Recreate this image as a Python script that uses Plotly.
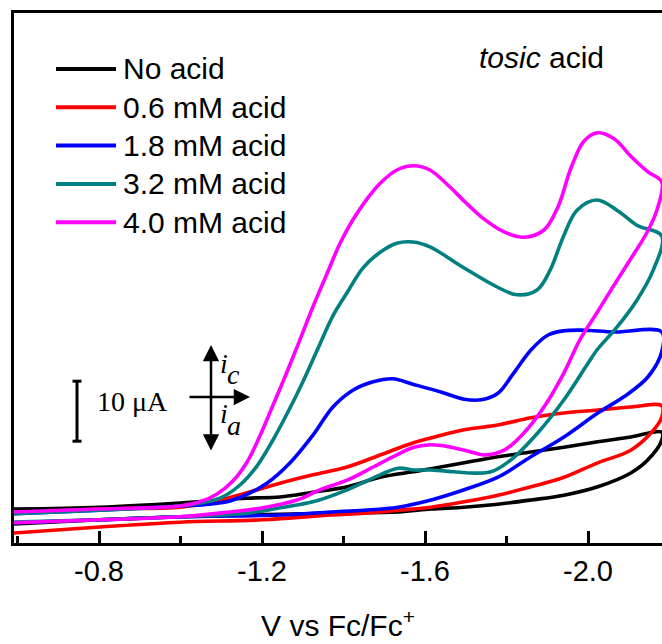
import plotly.graph_objects as go

# ---------------- data (potential in V vs Fc/Fc+, current in µA, cathodic up) ----------------
series_names = ["No acid", "0.6 mM acid", "1.8 mM acid", "3.2 mM acid", "4.0 mM acid"]
series_colors = ["#000000", "#FF0000", "#0000FF", "#008080", "#FF00FF"]

v_noacid = [-0.589, -0.802, -0.999, -1.163, -1.244, -1.325, -1.409, -1.490, -1.570, -1.615, -1.696,
            -1.779, -1.860, -1.941, -2.024, -2.105, -2.181,
            -2.181, -2.147, -2.105, -2.024, -1.941, -1.860, -1.779, -1.696, -1.615, -1.534, -1.369,
            -0.999, -0.802, -0.589]
i_noacid = [1.0, 1.3, 2.0, 2.8, 3.0, 3.8, 4.7, 6.3, 7.2, 7.7, 8.7,
            9.7, 10.5, 11.3, 12.2, 13.0, 13.8,
            12.5, 9.2, 7.0, 4.7, 3.3, 2.5, 1.8, 1.3, 1.0, 0.5, 0.3,
            -0.3, -0.8, -1.5]

v_06 = [-0.589, -0.802, -0.999, -1.080, -1.163, -1.244, -1.325, -1.409, -1.490, -1.570, -1.612,
        -1.696, -1.779, -1.860, -1.941, -2.024, -2.105, -2.181,
        -2.181, -2.155, -2.105, -2.024, -1.941, -1.860, -1.779, -1.696, -1.615, -1.534, -1.450,
        -1.369, -1.202, -0.999, -0.802, -0.589]
i_06 = [0.3, 1.0, 1.3, 2.2, 3.7, 5.3, 6.7, 8.0, 10.0, 12.0, 12.8,
        14.2, 15.0, 16.2, 17.0, 17.5, 18.0, 18.2,
        16.3, 13.7, 10.8, 8.7, 6.3, 4.7, 3.3, 2.2, 1.3, 0.8, 0.3,
        0.0, -0.8, -1.2, -2.0, -3.0]

v_18 = [-0.589, -0.802, -0.999, -1.072, -1.129, -1.212, -1.269, -1.325, -1.374, -1.423, -1.473, -1.521,
        -1.570, -1.639, -1.696, -1.738, -1.779, -1.818, -1.860, -1.902, -1.941, -1.990, -2.064, -2.181,
        -2.181, -2.147, -2.088, -2.024, -1.941, -1.860, -1.779, -1.696, -1.615, -1.534, -1.450,
        -1.369, -1.244, -0.999, -0.802, -0.589]
i_18 = [0.2, 0.8, 1.5, 1.8, 2.5, 5.3, 8.7, 13.3, 18.0, 20.8, 22.2, 22.7,
        21.8, 20.5, 19.3, 19.2, 20.3, 23.7, 27.5, 30.0, 30.7, 30.8, 30.5, 30.5,
        27.2, 23.0, 19.7, 17.0, 13.0, 9.7, 6.3, 4.2, 2.5, 1.3, 0.8,
        0.5, 0.0, -0.3, -0.8, -1.3]

v_32 = [-0.589, -0.802, -0.999, -1.048, -1.097, -1.146, -1.188, -1.227, -1.264, -1.301, -1.337,
        -1.374, -1.411, -1.448, -1.490, -1.531, -1.570, -1.612, -1.693, -1.777, -1.826, -1.875,
        -1.907, -1.939, -1.973, -2.022, -2.071, -2.120, -2.181,
        -2.160, -2.120, -2.071, -2.022, -2.000, -1.941, -1.877, -1.811, -1.762, -1.713, -1.671,
        -1.615, -1.573, -1.534, -1.490, -1.409, -1.325, -1.244, -1.163, -0.999, -0.802, -0.589]
i_32 = [0.2, 0.8, 1.5, 2.0, 2.8, 5.0, 8.2, 12.5, 17.2, 22.3, 27.7,
        33.2, 37.3, 41.2, 43.8, 45.3, 45.5, 44.7, 41.3, 38.0, 36.7, 37.5,
        40.8, 46.3, 50.8, 52.5, 50.8, 48.3, 46.5,
        40.8, 35.8, 31.3, 27.5, 25.3, 19.2, 13.7, 9.2, 7.2, 7.0, 7.2,
        7.5, 7.5, 7.8, 6.7, 4.2, 2.2, 1.2, 0.3, -0.3, -0.8, -1.2]

v_40 = [-0.589, -0.802, -0.999, -1.048, -1.090, -1.129, -1.163, -1.195, -1.227, -1.261, -1.293,
        -1.325, -1.360, -1.391, -1.423, -1.458, -1.490, -1.531, -1.573, -1.612, -1.656, -1.698,
        -1.738, -1.794, -1.843, -1.892, -1.926, -1.958, -1.990, -2.024, -2.064, -2.105, -2.147, -2.181,
        -2.169, -2.144, -2.103, -2.061, -2.022, -1.980, -1.941, -1.892, -1.843, -1.794, -1.745,
        -1.713, -1.664, -1.615, -1.573, -1.521, -1.473, -1.409, -1.342, -1.286, -1.202, -1.121,
        -0.999, -0.802, -0.589]
i_40 = [0.5, 1.0, 1.5, 2.2, 3.5, 5.7, 8.8, 13.2, 18.3, 23.8, 29.2,
        34.7, 40.3, 45.2, 49.2, 52.7, 55.3, 57.5, 58.2, 57.5, 55.0, 52.2,
        49.7, 47.2, 46.3, 47.5, 51.3, 57.8, 62.3, 63.7, 62.7, 59.8, 57.2, 55.5,
        50.8, 47.0, 42.5, 38.0, 33.7, 29.2, 23.7, 18.0, 13.7, 10.8, 10.0,
        10.5, 11.3, 11.7, 11.3, 9.7, 8.0, 5.8, 4.2, 2.5, 1.2, 0.5,
        -0.3, -0.8, -1.3]

potentials = [v_noacid, v_06, v_18, v_32, v_40]
currents = [i_noacid, i_06, i_18, i_32, i_40]

x_major = [-0.8, -1.2, -1.6, -2.0]
x_major_labels = ["-0.8", "-1.2", "-1.6", "-2.0"]
x_minor = [-0.6, -1.0, -1.4, -1.8, -2.2]

scale_bar_uA = 10.0

# ---------------- figure ----------------
W, H = 662, 644
ML, MR, MT, MB = 14, 0, 13, 101
PW, PH = W - ML - MR, H - MT - MB


def px(x):
    return (x - ML) / PW


def py(y):
    return (H - MB - y) / PH


SANS = "Arial, Liberation Sans, sans-serif"
SERIF = "Times New Roman, Liberation Serif, serif"

fig = go.Figure()
for name, color, v, i in zip(series_names, series_colors, potentials, currents):
    fig.add_trace(go.Scatter(x=v, y=i, mode="lines", name=name,
                             line=dict(color=color, width=3.6, shape="spline", smoothing=1.0),
                             showlegend=False))

shapes = []
annotations = []

# legend (drawn manually to get long line samples)
row0, drow = 69, 38.3
for k, (name, color) in enumerate(zip(series_names, series_colors)):
    yy = py(row0 + k * drow)
    shapes.append(dict(type="line", xref="paper", yref="paper", x0=px(56), x1=px(116),
                       y0=yy, y1=yy, line=dict(color=color, width=4)))
    annotations.append(dict(text=name, xref="paper", yref="paper", x=px(121), y=yy,
                            xanchor="left", yanchor="middle", showarrow=False,
                            font=dict(family=SANS, size=30, color="black")))

annotations.append(dict(text="<i>tosic</i> acid", xref="paper", yref="paper", x=px(541), y=py(58),
                        xanchor="center", yanchor="middle", showarrow=False,
                        font=dict(family=SANS, size=30, color="black")))

# scale bar (10 µA) in data coordinates
bar_x, bar_y0 = -0.746, 12.3
shapes.append(dict(type="line", xref="x", yref="y", x0=bar_x, x1=bar_x, y0=bar_y0,
                   y1=bar_y0 + scale_bar_uA, line=dict(color="black", width=3)))
for yv in (bar_y0, bar_y0 + scale_bar_uA):
    shapes.append(dict(type="line", xref="x", yref="y", x0=bar_x + 0.011, x1=bar_x - 0.011,
                       y0=yv, y1=yv, line=dict(color="black", width=3)))
annotations.append(dict(text="10 μA", xref="paper", yref="paper", x=px(95), y=py(401),
                        xanchor="left", yanchor="middle", showarrow=False,
                        font=dict(family=SERIF, size=28, color="black")))

# current direction arrows
annotations.append(dict(text="", xref="paper", yref="paper", x=px(211), y=py(345), ax=0, ay=107,
                        showarrow=True, arrowside="end+start", arrowhead=2, arrowsize=1.3,
                        arrowwidth=2.5, arrowcolor="black", standoff=0, startstandoff=0))
annotations.append(dict(text="", xref="paper", yref="paper", x=px(250), y=py(397), ax=-62, ay=0,
                        showarrow=True, arrowhead=2, arrowsize=1.3, arrowwidth=2.5,
                        arrowcolor="black", standoff=0))
for t, xx, yy in [("i", 224, 363), ("c", 233, 374), ("i", 224, 413), ("a", 234, 425)]:
    annotations.append(dict(text="<i>%s</i>" % t, xref="paper", yref="paper", x=px(xx), y=py(yy),
                            xanchor="center", yanchor="middle", showarrow=False,
                            font=dict(family=SERIF, size=28, color="black")))

x_left = -0.6 - (ML - 17.5) / 407.5
x_right = -0.6 - (W - MR - 17.5) / 407.5
y_bottom = (515 - (H - MB)) / 6
y_top = (515 - MT) / 6

fig.update_layout(
    width=W, height=H,
    margin=dict(l=ML, r=MR, t=MT, b=MB, pad=0),
    paper_bgcolor="white", plot_bgcolor="white",
    shapes=shapes, annotations=annotations,
    xaxis=dict(range=[x_left, x_right], showgrid=False, zeroline=False,
               showline=True, linewidth=3, linecolor="black", mirror=True,
               ticks="inside", ticklen=12, tickwidth=3, tickcolor="black",
               tickvals=x_major, ticktext=x_major_labels,
               tickfont=dict(family=SANS, size=29, color="black"),
               minor=dict(tickvals=x_minor, ticks="inside", ticklen=7, tickwidth=3,
                          tickcolor="black", showgrid=False),
               title=dict(text="V vs Fc/Fc<sup>+</sup>", standoff=30,
                          font=dict(family=SANS, size=30, color="black"))),
    yaxis=dict(range=[y_bottom, y_top], showgrid=False, zeroline=False,
               showline=True, linewidth=3, linecolor="black", mirror=False,
               ticks="", showticklabels=False),
)

fig.write_html("out.html", config={"displayModeBar": False},
               post_script="document.body.style.margin='0px';")
